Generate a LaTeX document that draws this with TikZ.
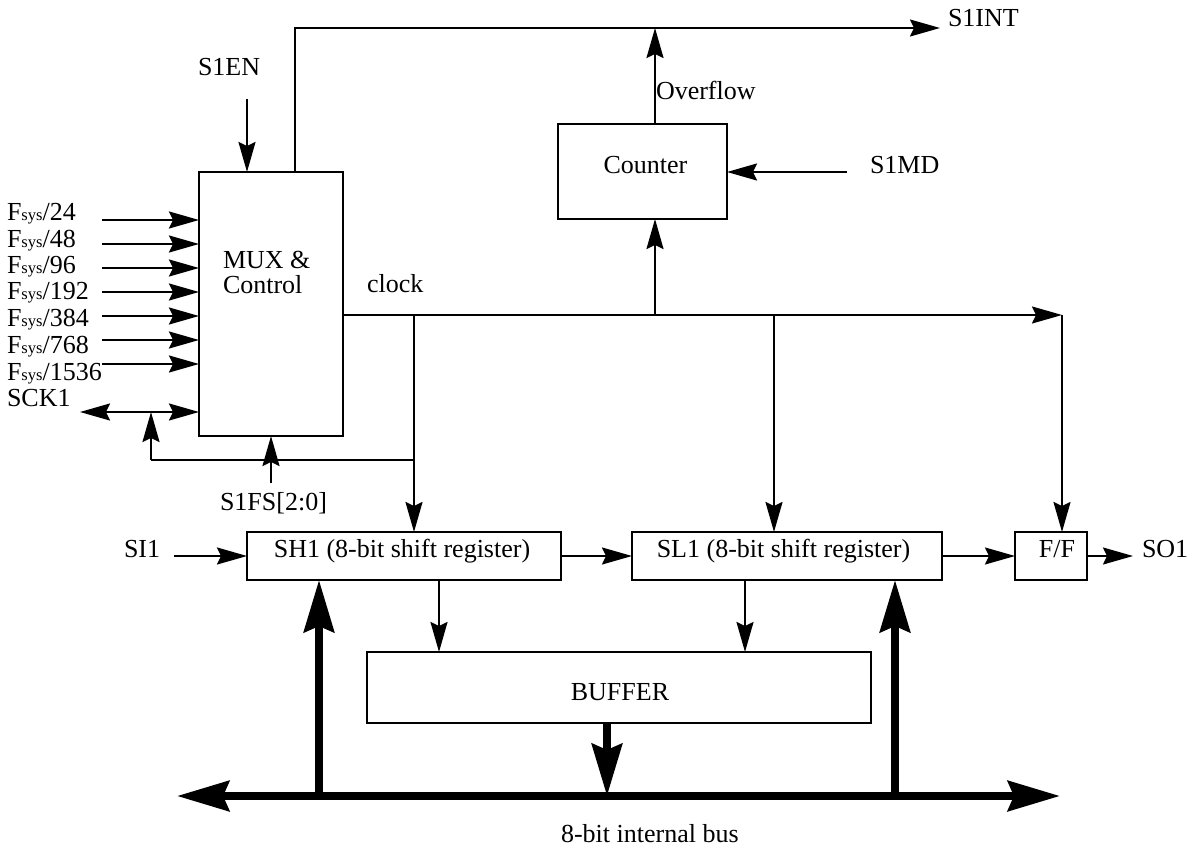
\documentclass[tikz,border=0pt]{standalone}
\usepackage{fontspec}
\setmainfont{Liberation Serif}
\usetikzlibrary{arrows.meta,calc}

\tikzset{
  wire/.style={line width=2pt},
  arr/.style={wire,-{Stealth[length=30pt,width=17pt,inset=4pt]}},
  darr/.style={wire,{Stealth[length=30pt,width=17pt,inset=4pt]}-{Stealth[length=30pt,width=17pt,inset=4pt]}},
  busline/.style={line width=8pt},
  busarr/.style={busline,-{Stealth[length=52pt,width=30pt,inset=6pt]}},
  busdarr/.style={busline,{Stealth[length=52pt,width=30pt,inset=6pt]}-{Stealth[length=52pt,width=30pt,inset=6pt]}},
  block/.style={draw,line width=2.2pt,rectangle,inner sep=0pt,outer sep=0pt},
  txt/.style={inner sep=0pt,outer sep=0pt,anchor=base west,font=\fontsize{26}{30}\selectfont},
  ctxt/.style={txt,anchor=base},
}
\newcommand{\fsys}[1]{F{\fontsize{16.5}{18}\selectfont sys}/#1}

\begin{document}
\begin{tikzpicture}[x=1pt,y=-1pt]
\useasboundingbox (0,0) rectangle (1193,848);

% ---- blocks ----
\node[block,minimum width=144pt,minimum height=264pt] (mux) at (271,304) {};
\node[block,minimum width=169pt,minimum height=95pt] (counter) at (642.5,171.5) {};
\node[block,minimum width=314pt,minimum height=48pt] (sh1) at (404,556) {};
\node[block,minimum width=310pt,minimum height=48pt] (sl1) at (787,556) {};
\node[block,minimum width=72pt,minimum height=48pt] (flipflop) at (1051,556) {};
\node[block,minimum width=504pt,minimum height=71pt] (buffer) at (619,687.5) {};

% ---- block texts ----
\node[txt] (muxa) at (223,268) {MUX \&};
\node[txt] (muxb) at (223,293) {Control};
\node[ctxt] (countertxt) at (645.5,173) {Counter};
\node[ctxt] (sh1txt) at (402,557) {SH1 (8-bit shift register)};
\node[ctxt] (sl1txt) at (783.5,557) {SL1 (8-bit shift register)};
\node[ctxt] (fftxt) at (1057,557) {F/F};
\node[ctxt] (buftxt) at (620,700) {BUFFER};

% ---- signal labels ----
\node[txt] (s1en) at (198,76) {S1EN};
\node[txt] (s1int) at (948,27) {S1INT};
\node[txt] (ovf) at (656,100) {Overflow};
\node[txt] (s1md) at (870,173) {S1MD};
\node[txt] (clock) at (367,292) {clock};
\node[txt] (s1fs) at (220,510) {S1FS[2:0]};
\node[txt] (si1) at (124,557) {SI1};
\node[txt] (so1) at (1142,557) {SO1};
\node[txt] (bus) at (561,842) {8-bit internal bus};

% ---- clock source inputs ----
\foreach \lab/\ly/\ay/\n in {24/220/220/a,48/247/244/b,96/273/268/c,192/299/292/d,384/326/316/e,768/353/340/f,1536/380/364/g}{
  \node[txt] (fsys\n) at (7,\ly) {\fsys{\lab}};
  \coordinate (in\n) at (102,\ay);
  \draw[arr] (in\n) -- (in\n -| mux.west);
}
\node[txt] (sck1) at (7,406) {SCK1};

% ---- free ends and junctions ----
\coordinate (sckend) at (80,412);
\coordinate (fbk) at (151,460);
\coordinate (fsin) at (271,483);
\coordinate (enin) at (247,99);
\coordinate (muxout) at (295,28);
\coordinate (intend) at (940,28);
\coordinate (ovfx) at (655,28);
\coordinate (mdin) at (847,172);
\coordinate (jsh) at (414,315);
\coordinate (jcnt) at (655,315);
\coordinate (jsl) at (774,315);
\coordinate (clkend) at (1062,315);
\coordinate (siin) at (174,556);
\coordinate (soend) at (1133,556);
\coordinate (busl) at (177,796);
\coordinate (busr) at (1060,796);

% ---- connectors ----
\draw[darr] (sckend) -- (sckend -| mux.west);
\draw[arr] (fbk) -- (fbk |- sckend);
\draw[wire] (jsh |- fbk) -- (fbk);
\draw[arr] (fsin) -- (mux.south);
\draw[arr] (enin) -- (enin |- mux.north);
\draw[arr] (muxout |- mux.north) -- (muxout) -- (intend);
\draw[arr] (ovfx |- counter.north) -- (ovfx);
\draw[arr] (mdin) -- (mdin -| counter.east);
\draw[arr] (jsh -| mux.east) -- (clkend);
\draw[arr] (jcnt) -- (jcnt |- counter.south);
\draw[arr] (jsh) -- (jsh |- sh1.north);
\draw[arr] (jsl) -- (jsl |- sl1.north);
\draw[arr] (clkend) -- (clkend |- flipflop.north);
\draw[arr] (siin) -- (sh1.west);
\draw[arr] (sh1.east) -- (sl1.west);
\draw[arr] (sl1.east) -- (flipflop.west);
\draw[arr] (flipflop.east) -- (soend);
\draw[arr] (sh1.south -| 439,0) -- (buffer.north -| 439,0);
\draw[arr] (sl1.south -| 745,0) -- (buffer.north -| 745,0);

% ---- internal bus ----
\draw[busdarr] (busl) -- (busr);
\draw[busarr] (busl -| 319,0) -- (sh1.south -| 319,0);
\draw[busarr] (busl -| 895,0) -- (sl1.south -| 895,0);
\draw[busarr] (buffer.south -| 607,0) -- (busl -| 607,0);
\end{tikzpicture}
\end{document}
